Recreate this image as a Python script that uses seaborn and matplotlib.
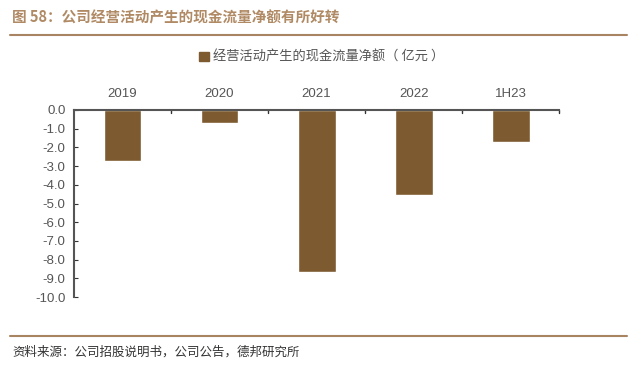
import matplotlib
matplotlib.use("Agg")
import matplotlib.pyplot as plt
import matplotlib.patches as mpatches
import matplotlib.lines as mlines
import pandas as pd
import seaborn as sns

sns.set_style("white")
plt.rcParams['font.family'] = ['Noto Sans CJK SC', 'DejaVu Sans']
plt.rcParams['axes.unicode_minus'] = False

# ---------------------------
# data
# ---------------------------
periods = ["2019", "2020", "2021", "2022", "1H23"]
cash_flow = [-2.75, -0.70, -8.68, -4.55, -1.72]
series_name = "经营活动产生的现金流量净额（ 亿元 ）"
title = "图 58：公司经营活动产生的现金流量净额有所好转"
source = "资料来源：公司招股说明书，公司公告，德邦研究所"

df = pd.DataFrame({"period": periods, "value": cash_flow})

bar_color = "#7d5a2f"
brown_line = "#a88463"
grey = "#555555"
num_font = ["Liberation Sans", "DejaVu Sans"]

fig = plt.figure(figsize=(6.37, 3.69), dpi=100)
ax = fig.add_axes([0.116, 0.195, 0.762, 0.507])

sns.barplot(data=df, x="period", y="value", color=bar_color, width=0.39,
            saturation=1, ax=ax)

ax.set_ylim(-10, 0)
ax.set_yticks([-10, -9, -8, -7, -6, -5, -4, -3, -2, -1, 0])
ax.set_yticklabels([f"{v:.1f}" for v in ax.get_yticks()], fontsize=9.5,
                   color=grey, family=num_font)
ax.set_xlim(-0.5, len(periods) - 0.5)
ax.set_xlabel("")
ax.set_ylabel("")

# category labels above the zero line
ax.xaxis.tick_top()
ax.set_xticks(range(len(periods)))
ax.set_xticklabels(periods, fontsize=9.5, color=grey, family=num_font)
ax.tick_params(axis="x", length=0, pad=7)
ax.tick_params(axis="y", direction="in", length=3, color="#333333", left=True, pad=6)

# boundary ticks on the zero line
for b in [i + 0.5 for i in range(len(periods))]:
    ax.plot([b, b], [0, -0.15], color="#333333", lw=1, clip_on=False)

for s in ["right", "bottom"]:
    ax.spines[s].set_visible(False)
ax.spines["top"].set_color("#555555")
ax.spines["top"].set_linewidth(1.5)
ax.spines["left"].set_color("#555555")
ax.spines["left"].set_linewidth(1.5)

handle = mpatches.Patch(color=bar_color, label=series_name)
fig.legend(handles=[handle], loc="center", bbox_to_anchor=(0.505, 0.845),
           frameon=False, fontsize=9.5, handlelength=0.7, handleheight=0.7,
           handletextpad=0.3, labelcolor=grey)

# title, rules and source
fig.text(0.019, 0.952, title, fontsize=10.5, fontweight="bold", color="#b08a64",
         va="center", ha="left")
fig.add_artist(mlines.Line2D([0.016, 0.984], [0.906, 0.906], color=brown_line, lw=1.5))
fig.add_artist(mlines.Line2D([0.016, 0.984], [0.089, 0.089], color=brown_line, lw=1.5))
fig.text(0.019, 0.046, source, fontsize=9, color="#333333", va="center", ha="left")

fig.savefig("out.png", dpi=100)
